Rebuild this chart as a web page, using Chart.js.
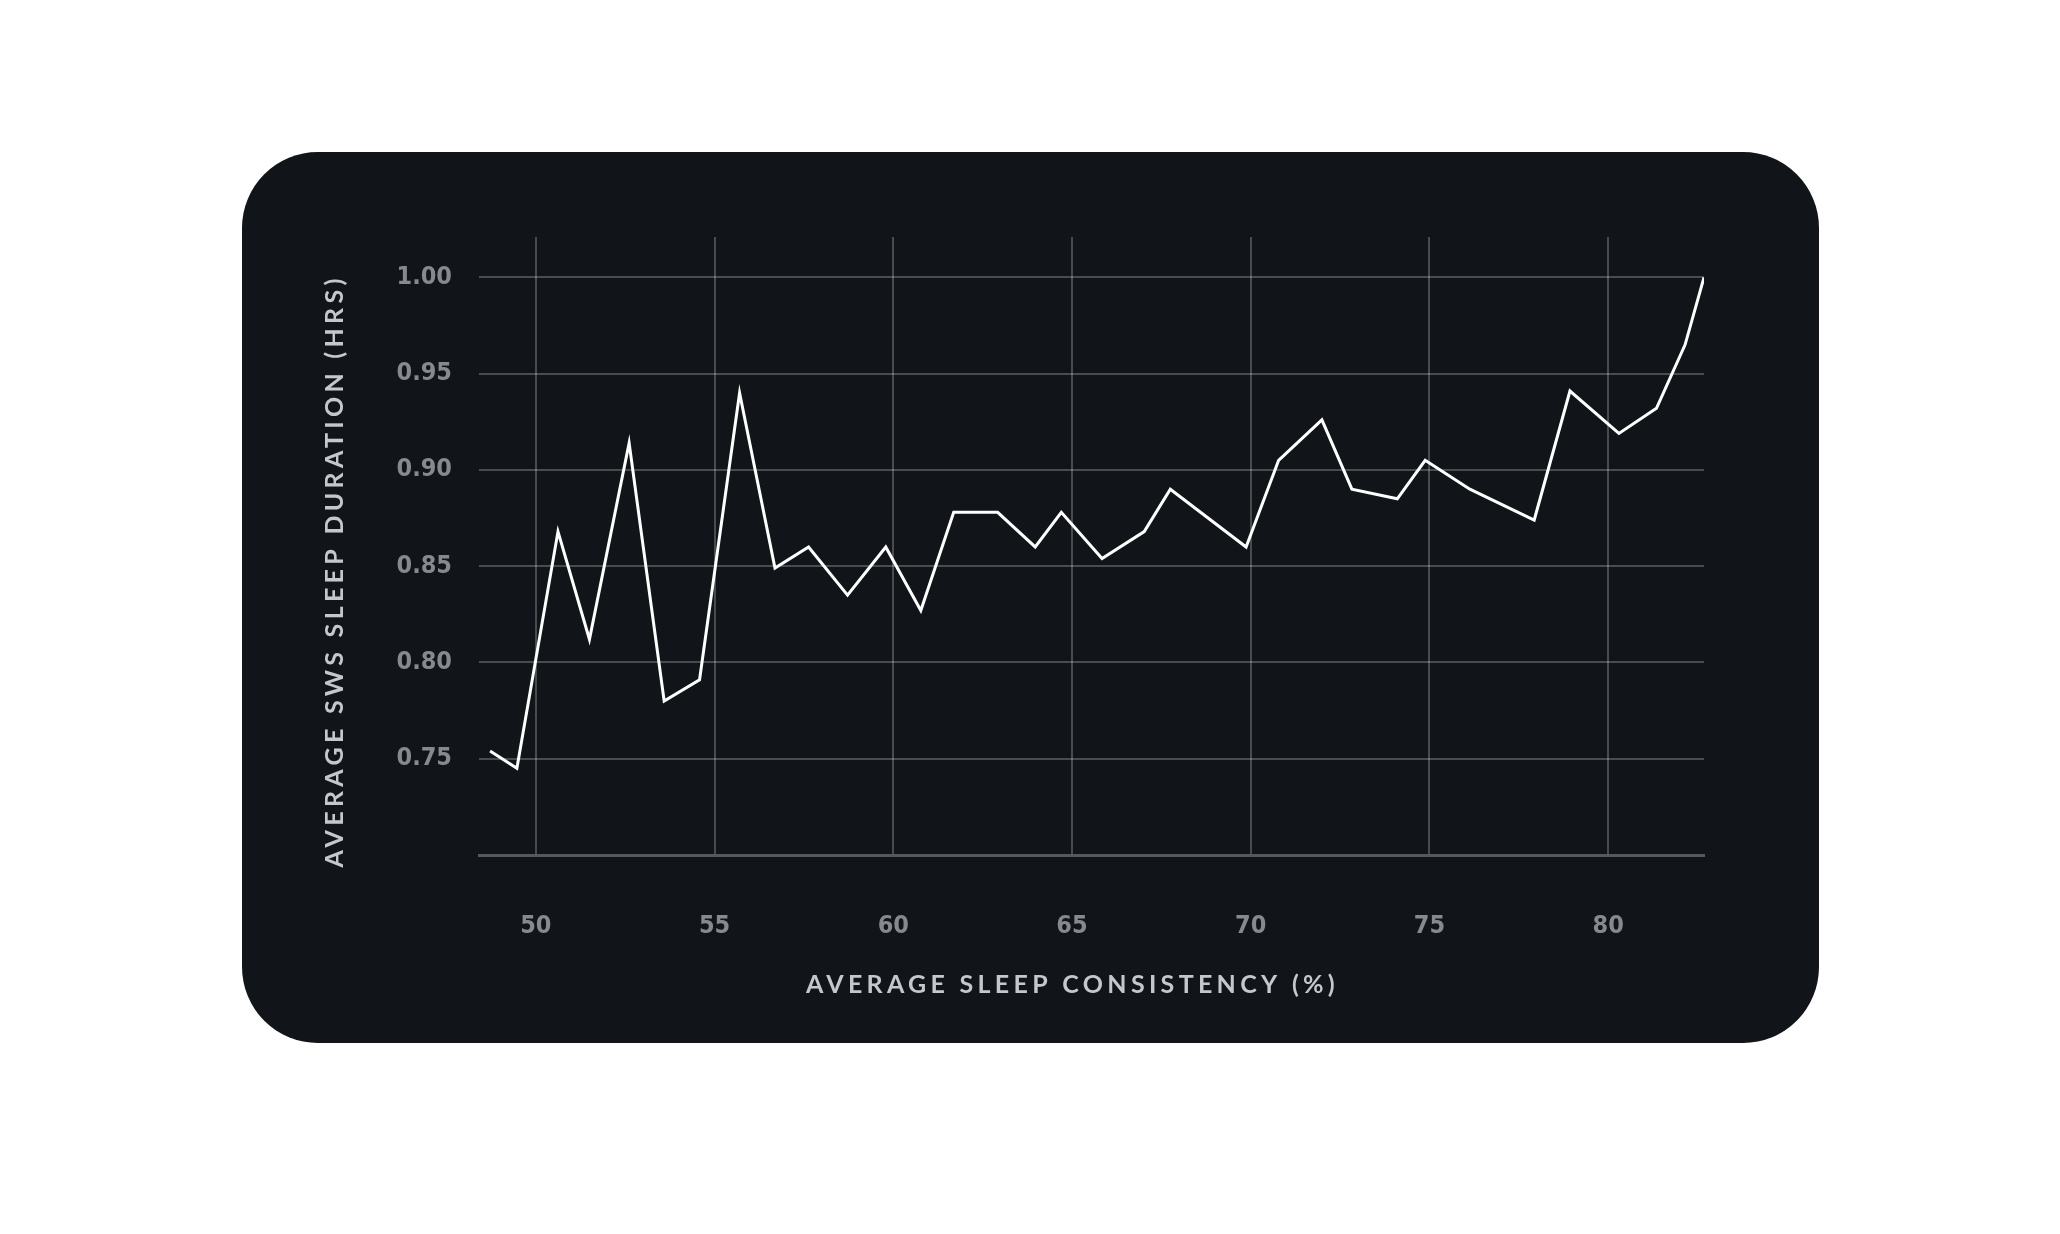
<!DOCTYPE html>
<html>
<head>
<meta charset="utf-8">
<script src="https://cdn.jsdelivr.net/npm/chart.js@4.4.1/dist/chart.umd.min.js"></script>
<style>
  html, body { margin: 0; padding: 0; background: #ffffff; width: 2060px; height: 1234px; overflow: hidden; }
  #card { position: absolute; left: 242px; top: 152px; width: 1577px; height: 891px; border-radius: 76px; background: #111418; overflow: hidden; }
  #chart { position: absolute; left: 0; top: 0; }
</style>
</head>
<body>
<div id="card"><canvas id="chart" width="1577" height="891"></canvas></div>
<script>
// Average sleep consistency (%) — x values
const consistency = [48.72, 49.47, 50.62, 51.50, 52.61, 53.59, 54.58, 55.70, 56.69, 57.63, 58.72,
  59.79, 60.77, 61.69, 62.92, 63.97, 64.70, 65.84, 67.02, 67.75, 69.87, 70.78, 71.99, 72.83,
  74.10, 74.88, 76.13, 77.93, 78.93, 80.30, 81.35, 82.15, 82.68];
// Average SWS sleep duration (hrs) — y values
const swsHours = [0.754, 0.745, 0.868, 0.812, 0.914, 0.780, 0.791, 0.940, 0.849, 0.860, 0.835,
  0.860, 0.827, 0.878, 0.878, 0.860, 0.878, 0.854, 0.868, 0.890, 0.860, 0.905, 0.926, 0.890,
  0.885, 0.905, 0.890, 0.874, 0.941, 0.919, 0.932, 0.965, 1.000];
const xTickValues = [50, 55, 60, 65, 70, 75, 80];
const yTickValues = [0.75, 0.80, 0.85, 0.90, 0.95, 1.00];
const xTitle = 'AVERAGE SLEEP CONSISTENCY (%)';
const yTitle = 'AVERAGE SWS SLEEP DURATION (HRS)';

const points = consistency.map((x, i) => ({ x: x, y: swsHours[i] }));

const gridColor = 'rgba(255,255,255,0.24)';
const tickFont = { family: "'DejaVu Sans', sans-serif", size: 25, weight: 'bold condensed' };
const titleFont = { family: "Lato, 'Open Sans', sans-serif", size: 25, weight: 'bold', lineHeight: 1.2 };

const titleSpacing = {
  id: 'titleSpacing',
  beforeDraw(chart) {
    Object.values(chart.scales).forEach(scale => {
      if (scale._patchedTitle) return;
      const orig = scale.drawTitle;
      scale.drawTitle = function () {
        const ctx = this.ctx;
        ctx.save();
        ctx.letterSpacing = '4.3px';
        if (this.axis === 'y') ctx.translate(0, 25);
        else ctx.translate(-19, 0);
        orig.apply(this, arguments);
        ctx.restore();
      };
      scale._patchedTitle = true;
    });
  }
};

new Chart(document.getElementById('chart'), {
  type: 'line',
  data: {
    datasets: [{
      data: points,
      borderColor: '#ffffff',
      borderWidth: 3,
      pointRadius: 0,
      pointHoverRadius: 0,
      tension: 0,
      fill: false
    }]
  },
  options: {
    responsive: false,
    animation: false,
    devicePixelRatio: 1,
    events: [],
    layout: { padding: { left: 78, right: 115, top: 85, bottom: 43 } },
    plugins: { legend: { display: false }, tooltip: { enabled: false } },
    scales: {
      x: {
        type: 'linear',
        min: 48.41,
        max: 82.68,
        afterFit(scale) { scale.height = 145; },
        afterBuildTicks(scale) { scale.ticks = xTickValues.map(v => ({ value: v })); },
        ticks: { stepSize: 5, includeBounds: false, color: '#858a8f', font: tickFont, padding: 56, maxRotation: 0 },
        grid: { color: gridColor, lineWidth: 2, drawTicks: false },
        border: { display: true, color: '#55585d', width: 3 },
        title: { display: true, text: xTitle, color: '#c4c7cb', font: titleFont, padding: 0 }
      },
      y: {
        type: 'linear',
        min: 0.70,
        max: 1.021,
        afterFit(scale) { scale.width = 159; },
        afterBuildTicks(scale) { scale.ticks = yTickValues.map(v => ({ value: v })); },
        ticks: { stepSize: 0.05, includeBounds: false, color: '#858a8f', font: tickFont, padding: 27,
          callback: v => Number(v).toFixed(2) },
        grid: { color: gridColor, lineWidth: 2, drawTicks: false },
        border: { display: false },
        title: { display: true, text: yTitle, color: '#c4c7cb', font: titleFont, padding: 0 }
      }
    }
  },
  plugins: [titleSpacing]
});
</script>
</body>
</html>
